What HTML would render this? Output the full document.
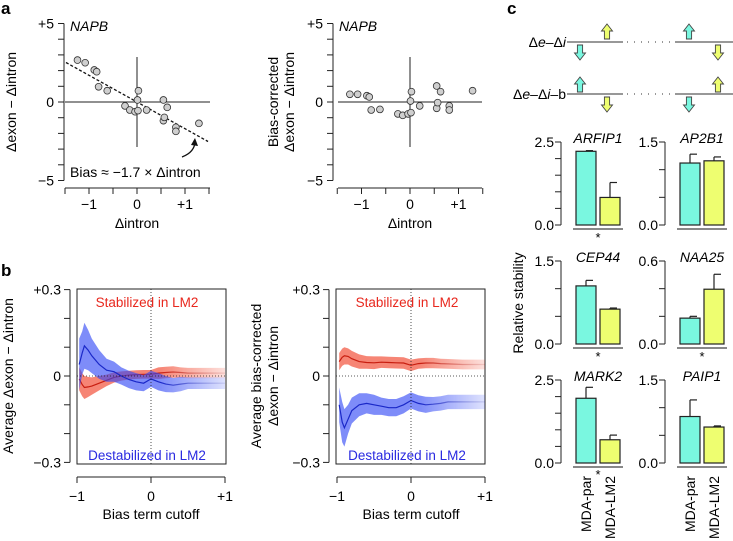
<!DOCTYPE html>
<html><head><meta charset="utf-8"><style>
html,body{margin:0;padding:0;background:#fff;}
svg{display:block;font-family:"Liberation Sans",sans-serif;}
</style></head><body>
<svg id="fig" width="733" height="541" viewBox="0 0 733 541">
<defs>
<linearGradient id="fadeL" gradientUnits="userSpaceOnUse" x1="160" y1="0" x2="226" y2="0"><stop offset="0" stop-color="#fff" stop-opacity="1"/><stop offset="1" stop-color="#fff" stop-opacity="0.25"/></linearGradient>
<linearGradient id="fadeR" gradientUnits="userSpaceOnUse" x1="420" y1="0" x2="485" y2="0"><stop offset="0" stop-color="#fff" stop-opacity="1"/><stop offset="1" stop-color="#fff" stop-opacity="0.25"/></linearGradient>
<mask id="mL"><rect x="0" y="0" width="733" height="541" fill="url(#fadeL)"/></mask>
<mask id="mR"><rect x="0" y="0" width="733" height="541" fill="url(#fadeR)"/></mask>
</defs>
<text x="1" y="14" font-size="17" font-weight="bold">a</text>
<text x="1" y="276" font-size="17" font-weight="bold">b</text>
<text x="507" y="14" font-size="17" font-weight="bold">c</text>
<g id="gA"></g><g id="gB"></g><g id="gC"></g>
</svg>
<script>
// ---------- Panel a data ----------
const aX = [-1.24,-1.08,-0.89,-0.84,-0.80,-0.62,-0.25,-0.15,-0.04,0.01,0.02,0.03,0.2,0.55,0.55,0.57,0.63,0.81,0.81,1.29];
const aYraw = [2.67,2.5,2.04,1.93,0.97,0.72,-0.25,-0.51,-0.62,0.13,-0.55,0.72,-0.51,0.13,-1.19,-0.98,-0.34,-1.61,-1.87,-1.36];
const aYcorr = [0.49,0.49,0.4,0.32,-0.51,-0.47,-0.76,-0.85,-0.76,0.06,-0.68,0.66,-0.25,1.02,-0.4,-0.04,0.66,-0.25,-0.51,0.72];
const aBiasSlope = -1.7;
const aXTicks = ["\u22121","0","+1"];
const aYTicks = ["+5","0","\u22125"];
// ---------- Panel b data ----------
const bX = [-0.97,-0.93,-0.9,-0.85,-0.8,-0.7,-0.6,-0.5,-0.4,-0.3,-0.2,-0.1,0,0.1,0.2,0.3,0.4,0.5,0.7,1.0];
const bLeftBlue = [0.04,0.08,0.105,0.09,0.07,0.04,0.02,0.015,0.0,-0.012,-0.02,-0.025,-0.01,-0.02,-0.028,-0.032,-0.028,-0.025,-0.025,-0.025];
const bLeftBlueErr = [0.09,0.075,0.08,0.07,0.06,0.05,0.04,0.035,0.03,0.03,0.03,0.028,0.028,0.03,0.028,0.025,0.025,0.02,0.02,0.02];
const bLeftRed = [-0.01,-0.03,-0.04,-0.038,-0.035,-0.025,-0.015,-0.005,0.0,0.003,0.005,0.006,0.006,0.01,0.012,0.014,0.012,0.01,0.01,0.01];
const bLeftRedErr = [0.04,0.04,0.04,0.035,0.03,0.025,0.02,0.018,0.016,0.015,0.015,0.015,0.015,0.02,0.02,0.02,0.018,0.018,0.018,0.018];
const bRightRed = [0.05,0.065,0.07,0.068,0.06,0.05,0.047,0.046,0.048,0.047,0.046,0.045,0.037,0.043,0.045,0.045,0.043,0.042,0.04,0.04];
const bRightRedErr = [0.03,0.03,0.03,0.028,0.027,0.025,0.022,0.022,0.02,0.02,0.02,0.02,0.02,0.018,0.018,0.018,0.017,0.017,0.017,0.017];
const bRightBlue = [-0.1,-0.16,-0.18,-0.15,-0.12,-0.1,-0.095,-0.1,-0.105,-0.11,-0.11,-0.1,-0.085,-0.095,-0.1,-0.098,-0.095,-0.09,-0.09,-0.09];
const bRightBlueErr = [0.06,0.07,0.065,0.05,0.045,0.04,0.035,0.035,0.03,0.03,0.03,0.03,0.028,0.028,0.028,0.025,0.025,0.025,0.025,0.025];
const bXTicks = ["\u22121","0","+1"];
const bYTicks = ["+0.3","0","\u22120.3"];
// ---------- Panel c data ----------
const cGenes = ["ARFIP1","AP2B1","CEP44","NAA25","MARK2","PAIP1"];
const cPar = [2.22,1.12,1.05,0.187,1.95,0.84];
const cParErr = [0.02,0.16,0.10,0.013,0.33,0.30];
const cLM2 = [0.83,1.16,0.63,0.396,0.70,0.65];
const cLM2Err = [0.45,0.07,0.02,0.108,0.14,0.02];
const cYMax = [2.5,1.5,1.5,0.6,2.5,1.5];
const cYMaxLabel = ["2.5","1.5","1.5","0.6","2.5","1.5"];
const cTickStep = [0.5,0.5,0.5,0.2,0.5,0.5];
const cStar = [true,false,true,true,true,false];

const NS="http://www.w3.org/2000/svg";
function mk(parent,tag,attrs,txt){const e=document.createElementNS(NS,tag);for(const k in attrs)e.setAttribute(k,attrs[k]);if(txt!==undefined)e.textContent=txt;parent.appendChild(e);return e;}
let el;
const gA=document.getElementById('gA'),gB=document.getElementById('gB'),gC=document.getElementById('gC');

// ===== Panel a =====
function drawA(ax0,yAxX,xAxStart,xAxEnd,unit,ys,nameP,titleLines,titleXs){
  const X=v=>ax0+unit*v, Y=v=>102-15.7*v;
  el=mk(gA,'line',{x1:yAxX,y1:Y(5),x2:yAxX,y2:Y(-5),stroke:'#222','stroke-width':1});
  
  
  for(let v=-5;v<=5;v++){el=mk(gA,'line',{x1:yAxX-6,y1:Y(v),x2:yAxX,y2:Y(v),stroke:'#222'});
    
    }
  [5,0,-5].forEach((v,i)=>{el=mk(gA,'text',{x:yAxX-10,y:Y(v)+5,'font-size':14,'text-anchor':'end'},aYTicks[i]);
    
    });
  el=mk(gA,'line',{x1:xAxStart,y1:188,x2:xAxEnd,y2:188,stroke:'#222'});
  
  
  for(let v=-1.5;v<=1.51;v+=0.5){el=mk(gA,'line',{x1:X(v),y1:188,x2:X(v),y2:194,stroke:'#222'});
    
    }
  [-1,0,1].forEach((v,i)=>{el=mk(gA,'text',{x:X(v),y:209,'font-size':14,'text-anchor':'middle'},aXTicks[i]);
    
    });
  el=mk(gA,'text',{x:X(0),y:228,'font-size':14,'text-anchor':'middle'},'\u0394intron');
  
  
  titleLines.forEach((t,i)=>{el=mk(gA,'text',{x:titleXs[i],y:102,'font-size':14,'text-anchor':'middle',transform:`rotate(-90 ${titleXs[i]} 102)`},t);
    
    });
  el=mk(gA,'line',{x1:X(0),y1:57,x2:X(0),y2:147,stroke:'#222'});
  
  
  el=mk(gA,'line',{x1:xAxStart,y1:Y(0),x2:xAxEnd,y2:Y(0),stroke:'#222'});
  
  
  el=mk(gA,'text',{x:yAxX+6,y:31,'font-size':14,'font-style':'italic'},'NAPB');
  
  
  return {X,Y};
}
let s1=drawA(137,64,65,210,48,aYraw,'a-left',['\u0394exon \u2212 \u0394intron'],[16]);
el=mk(gA,'line',{x1:s1.X(-1.48),y1:s1.Y(aBiasSlope*-1.48),x2:s1.X(1.48),y2:s1.Y(aBiasSlope*1.48),stroke:'#111','stroke-width':1.3,'stroke-dasharray':'3,2'});


aX.forEach((x,i)=>{el=mk(gA,'circle',{cx:s1.X(x),cy:s1.Y(aYraw[i]),r:3.4,fill:'#cfcfcf',stroke:'#333','stroke-width':0.8});
  
  });
el=mk(gA,'path',{d:'M182,157 Q195,152 195,141',fill:'none',stroke:'#111','stroke-width':1.3});


el=mk(gA,'path',{d:'M191,145 L195,138 L198,146 Z',fill:'#111'});


el=mk(gA,'text',{x:70,y:177,'font-size':14},'Bias \u2248 \u22121.7 \u00d7 \u0394intron');


let s2=drawA(410,333,338,482,48.5,aYcorr,'a-right',['Bias-corrected','\u0394exon \u2212 \u0394intron'],[278,294]);
aX.forEach((x,i)=>{el=mk(gA,'circle',{cx:s2.X(x),cy:s2.Y(aYcorr[i]),r:3.4,fill:'#cfcfcf',stroke:'#333','stroke-width':0.8});
  
  });

// ===== Panel b =====
function drawB(boxL,yAxX,x0,nameP,mask,series,titleLines,titleXs){
  const X=v=>x0+74*v, Y=v=>376-288*v;
  el=mk(gB,'rect',{x:boxL,y:289,width:149,height:175,fill:'none',stroke:'#222'});
  
  
  const g=mk(gB,'g',{mask:`url(#${mask})`});
  
  
  series.forEach(s=>{
    let up=bX.map((x,i)=>`${X(x).toFixed(1)},${Y(s.m[i]+s.e[i]).toFixed(1)}`);
    let dn=bX.map((x,i)=>`${X(x).toFixed(1)},${Y(s.m[i]-s.e[i]).toFixed(1)}`).reverse();
    el=mk(g,'polygon',{points:up.concat(dn).join(' '),fill:s.c,'fill-opacity':0.62});
    
    
    el=mk(g,'polyline',{points:bX.map((x,i)=>`${X(x).toFixed(1)},${Y(s.m[i]).toFixed(1)}`).join(' '),fill:'none',stroke:s.l,'stroke-width':1.2});
    
    
  });
  el=mk(gB,'line',{x1:boxL,y1:Y(0),x2:boxL+149,y2:Y(0),stroke:'#222','stroke-width':0.8,'stroke-dasharray':'1,2'});
  
  
  el=mk(gB,'line',{x1:X(0),y1:289,x2:X(0),y2:464,stroke:'#222','stroke-width':0.8,'stroke-dasharray':'1,2'});
  
  
  el=mk(gB,'line',{x1:yAxX,y1:Y(0.3),x2:yAxX,y2:Y(-0.3),stroke:'#222'});
  
  
  for(let k=-3;k<=3;k++){el=mk(gB,'line',{x1:yAxX-6,y1:Y(k/10),x2:yAxX,y2:Y(k/10),stroke:'#222'});
    
    }
  [0.3,0,-0.3].forEach((v,i)=>{el=mk(gB,'text',{x:yAxX-9,y:Y(v)+5,'font-size':14,'text-anchor':'end'},bYTicks[i]);
    
    });
  el=mk(gB,'line',{x1:X(-1),y1:477,x2:X(1),y2:477,stroke:'#222'});
  
  
  [-1,0,1].forEach((v,i)=>{el=mk(gB,'line',{x1:X(v),y1:477,x2:X(v),y2:483,stroke:'#222'});
    
    
    el=mk(gB,'text',{x:X(v),y:501,'font-size':14,'text-anchor':'middle'},bXTicks[i]);
    
    });
  el=mk(gB,'text',{x:X(0),y:519,'font-size':14,'text-anchor':'middle'},'Bias term cutoff');
  
  
  el=mk(gB,'text',{x:X(0)-4,y:307,'font-size':13.5,'text-anchor':'middle',fill:'#e8281e'},'Stabilized in LM2');
  
  
  el=mk(gB,'text',{x:X(0)-4,y:460,'font-size':13.5,'text-anchor':'middle',fill:'#2a2ae0'},'Destabilized in LM2');
  
  
  titleLines.forEach((t,i)=>{el=mk(gB,'text',{x:titleXs[i],y:376,'font-size':14,'text-anchor':'middle',transform:`rotate(-90 ${titleXs[i]} 376)`},t);
    
    });
}
drawB(77,70,151,'b-left','mL',[
  {m:bLeftRed,e:bLeftRedErr,c:'#f03a20',l:'#c81e10',n:'b-left-red'},
  {m:bLeftBlue,e:bLeftBlueErr,c:'#2e46f5',l:'#1a28c8',n:'b-left-blue'}],['Average \u0394exon \u2212 \u0394intron'],[13]);
drawB(336,329,411,'b-right','mR',[
  {m:bRightRed,e:bRightRedErr,c:'#f03a20',l:'#c81e10',n:'b-right-red'},
  {m:bRightBlue,e:bRightBlueErr,c:'#2e46f5',l:'#1a28c8',n:'b-right-blue'}],['Average bias-corrected','\u0394exon \u2212 \u0394intron'],[261,278]);

// ===== Panel c schematic =====
const CY='#7af7e0', YE='#eefe70';
function arrow(cx,tip,dir,col,name){
  const h=15,hw=5.5,sw=2.6,hh=7;const b=tip+dir*h,n=tip+dir*hh;
  el=mk(gC,'polygon',{points:`${cx},${tip} ${cx+hw},${n} ${cx+sw},${n} ${cx+sw},${b} ${cx-sw},${b} ${cx-sw},${n} ${cx-hw},${n}`,fill:col,stroke:'#444','stroke-width':0.9});
  
  
}
[[42,'\u0394e\u2013\u0394i','de-di'],[94,'\u0394e\u2013\u0394i\u2013b','de-di-b']].forEach(r=>{
  el=mk(gC,'line',{x1:567,y1:r[0],x2:623,y2:r[0],stroke:'#777','stroke-width':1.4});
  
  
  el=mk(gC,'line',{x1:627,y1:r[0],x2:673,y2:r[0],stroke:'#777','stroke-width':1.4,'stroke-dasharray':'1,6'});
  
  
  el=mk(gC,'line',{x1:675,y1:r[0],x2:733,y2:r[0],stroke:'#777','stroke-width':1.4});
  
  
});
el=mk(gC,'text',{x:566,y:47,'font-size':14,'text-anchor':'end'});


el.innerHTML='\u0394<tspan font-style="italic">e</tspan>\u2013\u0394<tspan font-style="italic">i</tspan>';
el=mk(gC,'text',{x:566,y:99,'font-size':14,'text-anchor':'end'});


el.innerHTML='\u0394<tspan font-style="italic">e</tspan>\u2013\u0394<tspan font-style="italic">i</tspan>\u2013b';
arrow(580,60,-1,CY,'arrow-down-cyan');arrow(607,24,1,YE,'arrow-up-yellow');
arrow(689,24,1,CY,'arrow-up-cyan');arrow(718,60,-1,YE,'arrow-down-yellow');
arrow(580,77,1,CY,'arrow-up-cyan');arrow(607,112,-1,YE,'arrow-down-yellow');
arrow(689,112,-1,CY,'arrow-down-cyan');arrow(718,77,1,YE,'arrow-up-yellow');

// ===== Panel c bars =====
const colAx=[561,665], rowTop=[142,261,380], rowZero=[225,344,463];
cGenes.forEach((gname,i)=>{
  const c=i%2,r=Math.floor(i/2),ax=colAx[c],top=rowTop[r],zero=rowZero[r];
  const Y=v=>zero-(zero-top)*v/cYMax[i];
  const b1=ax+15,b2=ax+39,bw=20;
  el=mk(gC,'line',{x1:ax,y1:top,x2:ax,y2:zero,stroke:'#222'});
  
  
  for(let v=0;v<=cYMax[i]+1e-6;v+=cTickStep[i]){el=mk(gC,'line',{x1:ax-6,y1:Y(v),x2:ax,y2:Y(v),stroke:'#222'});
    
    }
  el=mk(gC,'text',{x:ax-7,y:top+5,'font-size':14,'text-anchor':'end'},cYMaxLabel[i]);
  
  
  el=mk(gC,'text',{x:ax-7,y:zero+5,'font-size':14,'text-anchor':'end'},'0.0');
  
  
  el=mk(gC,'text',{x:b1+22,y:top+1,'font-size':14,'font-style':'italic','text-anchor':'middle'},gname);
  
  
  [[b1,cPar[i],cParErr[i],CY,'par'],[b2,cLM2[i],cLM2Err[i],YE,'lm2']].forEach(d=>{
    el=mk(gC,'line',{x1:d[0]+bw/2,y1:Y(d[1]),x2:d[0]+bw/2,y2:Y(d[1]+d[2]),stroke:'#222','stroke-width':1.2});
    
    
    el=mk(gC,'line',{x1:d[0]+bw/2,y1:Y(d[1]+d[2]),x2:d[0]+bw-3,y2:Y(d[1]+d[2]),stroke:'#222','stroke-width':1.2});
    
    
    el=mk(gC,'rect',{x:d[0],y:Y(d[1]),width:bw,height:zero-Y(d[1]),fill:d[3],stroke:'#222','stroke-width':1.2});
    
    
  });
  el=mk(gC,'line',{x1:b1-3,y1:zero+4,x2:b2+bw+3,y2:zero+4,stroke:'#888','stroke-width':2});
  
  
  if(cStar[i]){el=mk(gC,'text',{x:(b1+b2+bw)/2,y:zero+(r==2?16:17),'font-size':13,'text-anchor':'middle'},'*');
    
    }
  if(r==2){[['MDA-par',b1+bw/2+5],['MDA-LM2',b2+bw/2+5]].forEach(t=>{
    el=mk(gC,'text',{x:t[1],y:476,'font-size':14,'text-anchor':'end',transform:`rotate(-90 ${t[1]} 476)`},t[0]);
    
    });}
});
el=mk(gC,'text',{x:523,y:303,'font-size':14,'text-anchor':'middle',transform:'rotate(-90 523 303)'},'Relative stability');


</script>
</body></html>
